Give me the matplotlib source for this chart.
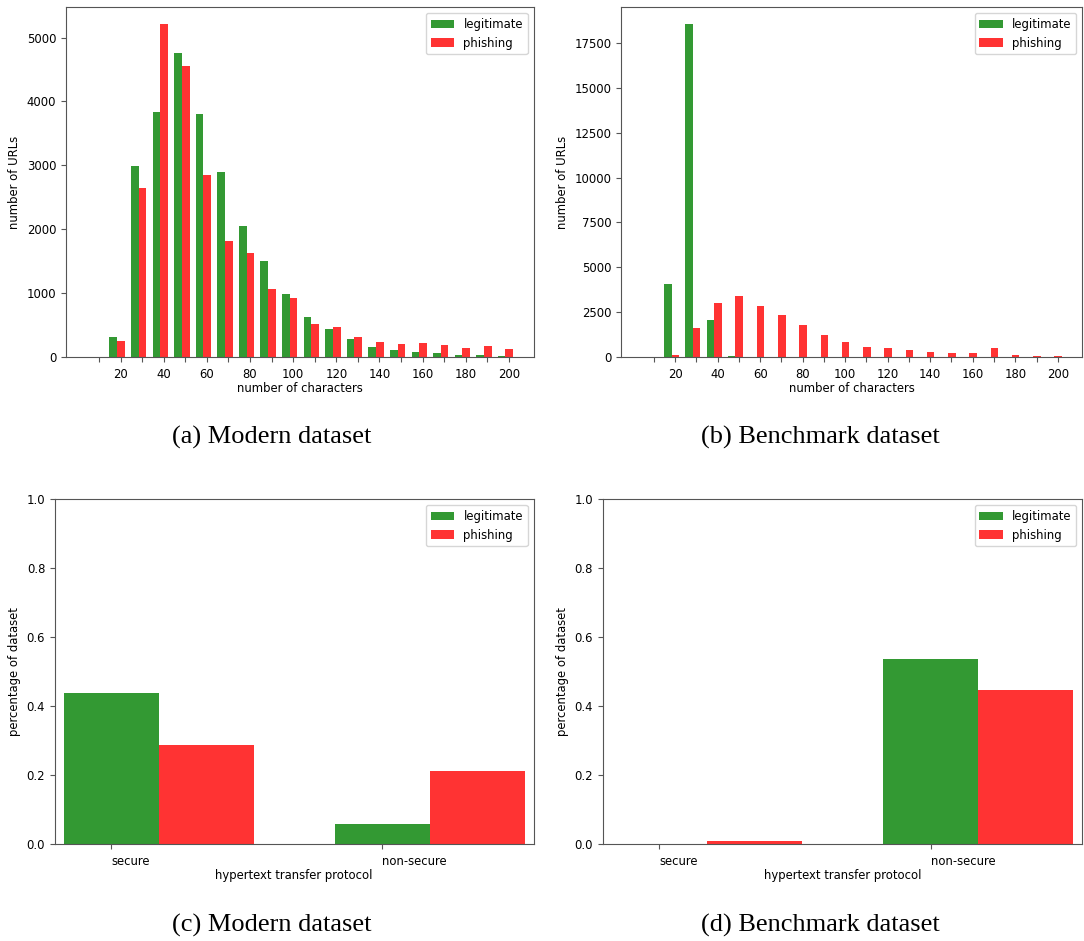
import numpy as np
import matplotlib
matplotlib.use("Agg")
import matplotlib.pyplot as plt

# url length histogram bins (upper tick of each bin)
length_bins = [20, 30, 40, 50, 60, 70, 80, 90, 100, 110, 120, 130, 140, 150, 160, 170, 180, 190, 200]

modern_legit = [303, 2992, 3828, 4759, 3802, 2892, 2055, 1496, 983, 622, 434, 277, 152, 110, 78, 58, 26, 21, 5]
modern_phish = [246, 2641, 5214, 4555, 2840, 1820, 1632, 1056, 920, 513, 460, 309, 230, 199, 214, 183, 141, 173, 115]

bench_legit = [4081, 18580, 2050, 37, 0, 0, 0, 0, 0, 0, 0, 0, 0, 0, 0, 0, 0, 0, 0]
bench_phish = [93, 1584, 2982, 3392, 2833, 2330, 1770, 1193, 820, 540, 485, 373, 261, 205, 224, 485, 93, 56, 56]

protocols = ["secure", "non-secure"]
modern_proto_legit = [0.440, 0.058]
modern_proto_phish = [0.287, 0.212]
bench_proto_legit = [0.0, 0.536]
bench_proto_phish = [0.0106, 0.448]

plt.rcParams["font.size"] = 8.4
plt.rcParams["axes.edgecolor"] = "#555555"
plt.rcParams["xtick.color"] = "#555555"
plt.rcParams["ytick.color"] = "#555555"
plt.rcParams["xtick.labelcolor"] = "black"
plt.rcParams["ytick.labelcolor"] = "black"
plt.rcParams["xtick.major.pad"] = 4.3

fig = plt.figure(figsize=(10.84, 9.41), dpi=100)

W, H = 1084, 941


def place(l, t, r, b):
    return fig.add_axes([l / W, 1 - b / H, (r - l) / W, (b - t) / H])


def length_hist(ax, legit, phish):
    x = np.array(length_bins) - 1.6
    w = 3.55
    ax.bar(x - w / 2, legit, w, color="green", alpha=0.8, label="legitimate")
    ax.bar(x + w / 2, phish, w, color="red", alpha=0.8, label="phishing")
    ticks = list(range(10, 201, 10))
    ax.set_xticks(ticks)
    ax.set_xticklabels([str(t) if t % 20 == 0 else "" for t in ticks])
    ax.set_xlim(-5.3, 211.4)
    ax.set_xlabel("number of characters", labelpad=1)
    ax.set_ylabel("number of URLs")
    ax.legend(loc="upper right")


def proto_bars(ax, legit, phish):
    x = np.arange(len(protocols))
    w = 0.35
    ax.bar(x, legit, w, color="green", alpha=0.8, label="legitimate")
    ax.bar(x + w, phish, w, color="red", alpha=0.8, label="phishing")
    ax.set_xticks(x)
    ax.set_xticklabels(protocols, ha="left")
    ax.set_xlim(-0.208, 1.558)
    ax.set_ylim(0, 1.0)
    ax.set_xlabel("hypertext transfer protocol", labelpad=0.5)
    ax.set_ylabel("percentage of dataset")
    ax.legend(loc="upper right")


ax1 = place(66.0, 7.3, 533.5, 356.7)
length_hist(ax1, modern_legit, modern_phish)

ax2 = place(621.3, 7.3, 1082.0, 356.7)
length_hist(ax2, bench_legit, bench_phish)

ax3 = place(54.9, 499.3, 533.5, 844.3)
proto_bars(ax3, modern_proto_legit, modern_proto_phish)

ax4 = place(602.8, 499.3, 1082.0, 844.3)
proto_bars(ax4, bench_proto_legit, bench_proto_phish)

cap = dict(family="Liberation Serif", fontsize=19, ha="center", va="center")
fig.text(272 / W, 1 - 437 / H, "(a) Modern dataset", **cap)
fig.text(820 / W, 1 - 437 / H, "(b) Benchmark dataset", **cap)
fig.text(272 / W, 1 - 925 / H, "(c) Modern dataset", **cap)
fig.text(820 / W, 1 - 925 / H, "(d) Benchmark dataset", **cap)

fig.savefig("out.png", dpi=100)
